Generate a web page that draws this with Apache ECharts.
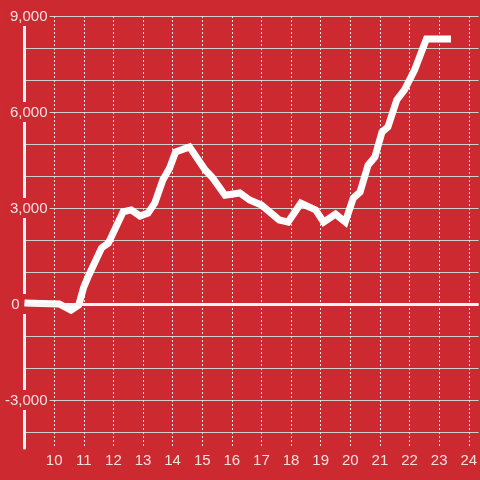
<!DOCTYPE html>
<html>
<head>
<meta charset="utf-8">
<script src="https://cdn.jsdelivr.net/npm/echarts@6/dist/echarts.min.js"></script>
<style>
html,body{margin:0;padding:0;background:#cc2a30;}
#c{width:480px;height:480px;}
</style>
</head>
<body>
<div id="c"></div>
<script>
const xValues = [9, 10.17, 10.57, 10.83, 11.0, 11.17, 11.6, 11.83, 12.33, 12.6, 12.9, 13.17, 13.4, 13.67, 13.9, 14.1, 14.57, 15.1, 15.33, 15.77, 16.27, 16.6, 17.0, 17.6, 17.9, 18.33, 18.83, 19.1, 19.5, 19.83, 20.1, 20.33, 20.6, 20.83, 21.07, 21.27, 21.57, 21.83, 22.17, 22.57, 23.4];
const yValues = [30, 0, -190, -30, 530, 900, 1750, 1900, 2880, 2940, 2750, 2840, 3160, 3875, 4250, 4750, 4910, 4190, 3970, 3400, 3470, 3250, 3090, 2625, 2560, 3150, 2940, 2560, 2810, 2560, 3310, 3500, 4340, 4590, 5375, 5530, 6375, 6690, 7310, 8280, 8280];
const yLabelStep = 3000;

const data = xValues.map((x, i) => [x, yValues[i]]);
const chart = echarts.init(document.getElementById('c'));
const labelColor = 'rgba(255,255,255,0.85)';
const font = 'Liberation Sans, Arial, sans-serif';
chart.setOption({
  backgroundColor: '#cc2a30',
  animation: false,
  grid: {left: 20, right: 0, top: 16, bottom: 32, containLabel: false},
  xAxis: {
    type: 'value', min: 9, max: 24.3333, interval: 1,
    axisLine: {show: false}, axisTick: {show: false},
    axisLabel: {
      color: labelColor, fontSize: 15, fontFamily: font, margin: 5,
      showMinLabel: false, showMaxLabel: false,
      formatter: v => (Number.isInteger(v) ? String(v) : '')
    },
    splitLine: {show: true, showMaxLine: false, lineStyle: {color: '#e6e6e6', width: 1, type: [2, 2]}}
  },
  yAxis: {
    type: 'value', min: -4500, max: 9000, splitNumber: 13, minInterval: 1000, maxInterval: 1000,
    axisLine: {show: true, lineStyle: {color: '#f2f2f2', width: 3}},
    axisTick: {show: false},
    axisLabel: {
      margin: -25,
      showMinLabel: false,
      formatter: v => {
        if (v % yLabelStep !== 0) return '';
        return v === 0 ? '{b|0}' : '{a|' + echarts.format.addCommas(v) + '}';
      },
      rich: {
        a: {color: labelColor, fontSize: 15, fontFamily: font,
            backgroundColor: '#cc2a30', padding: [3, 2, 2, 2]},
        b: {color: labelColor, fontSize: 15, fontFamily: font,
            backgroundColor: '#cc2a30', padding: [3, 30, 2, 6]}
      }
    },
    splitLine: {show: true, showMinLine: false, lineStyle: {color: '#cfcfcf', width: 1}}
  },
  series: [{
    type: 'line', data: data, symbol: 'none', silent: true,
    lineStyle: {color: '#ffffff', width: 7, join: 'miter'},
    markLine: {
      silent: true, symbol: 'none', label: {show: false},
      lineStyle: {color: '#f5f5f5', width: 3, type: 'solid'},
      data: [{yAxis: 0}]
    }
  }]
});
</script>
</body>
</html>
